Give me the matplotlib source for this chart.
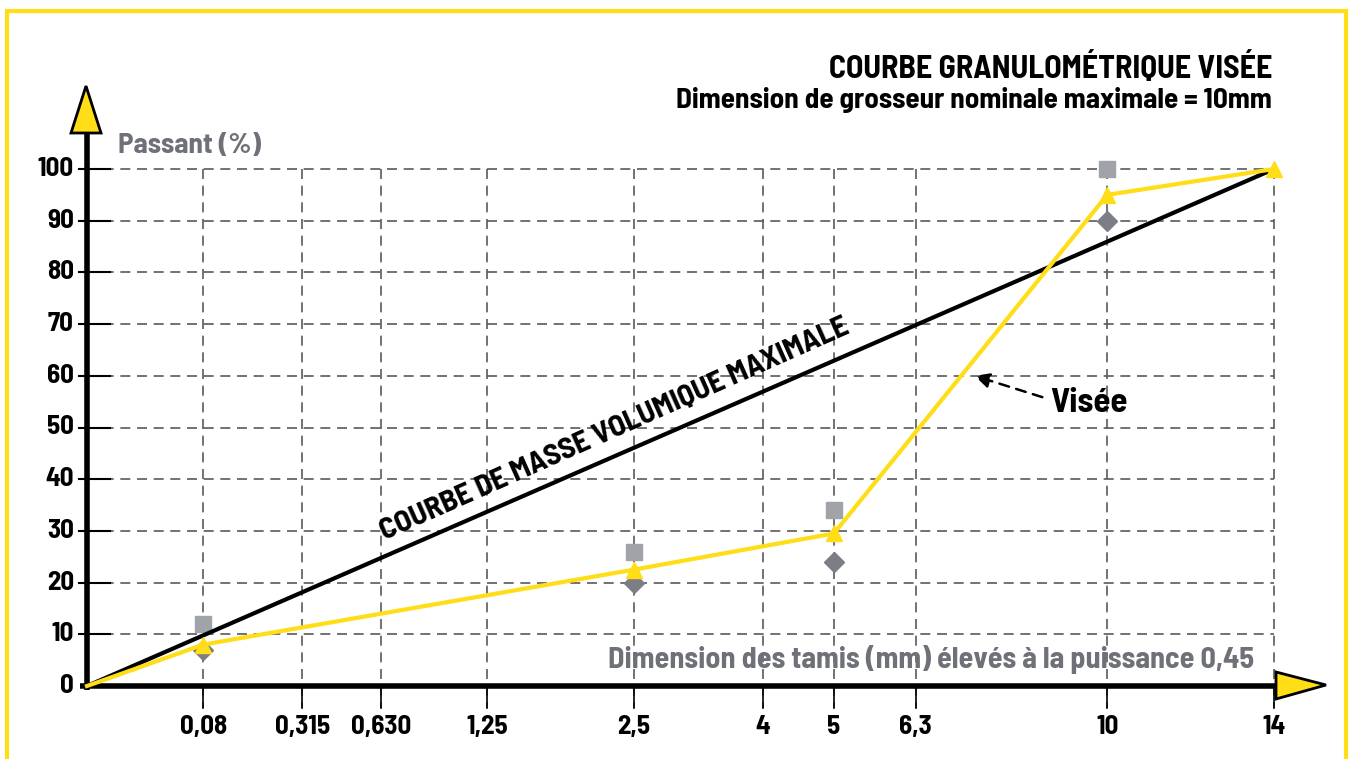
import matplotlib.pyplot as plt
from matplotlib.patches import Rectangle, Polygon
import numpy as np

# sieve sizes (mm) and tick labels
tamis = [0.08, 0.315, 0.630, 1.25, 2.5, 4, 5, 6.3, 10, 14]
tamis_labels = ['0,08', '0,315', '0,630', '1,25', '2,5', '4', '5', '6,3', '10', '14']
y_ticks = [0, 10, 20, 30, 40, 50, 60, 70, 80, 90, 100]

# target grading curve (Visée)
visee_x = [0, 0.08, 2.5, 5, 10, 14]
visee_y = [0, 8, 22.5, 29.5, 95, 100]

# measured points
carres_x = [0.08, 2.5, 5, 10]
carres_y = [12, 26, 34, 100]
losanges_x = [0.08, 2.5, 5, 10]
losanges_y = [7, 20, 24, 90]

# maximum density line
max_x = [0, 14]
max_y = [0, 100]

P = 0.45
def t(v):
    return np.asarray(v, dtype=float) ** P

FONT = ['Barlow Semi Condensed', 'DejaVu Sans']
JAUNE = '#FFDD17'
GRIS = '#6E7177'

fig = plt.figure(figsize=(13.5, 7.59), dpi=100)
ax = fig.add_axes([0, 0, 1, 1])
ax.set_axis_off()
sx = 362.0
sy = 5.17
ax.set_xlim(-87 / sx, (1350 - 87) / sx)
ax.set_ylim(-(759 - 686) / sy, 686 / sy)

def px(x, y):
    # pixel -> data helper for decoration placement
    return (x - 87) / sx, (686 - y) / sy

# yellow frame
x0, y0 = px(7, 11)
x1, y1 = px(1346, 770)
ax.add_patch(Rectangle((x0, y1), x1 - x0, y0 - y1, fill=False, ec=JAUNE, lw=3, zorder=0))

xmax = t(14)
grid_kw = dict(color='#5a5a5a', lw=1.2, ls=(0, (6, 4)), zorder=1)
for yv in y_ticks[1:]:
    ax.plot([0, xmax], [yv, yv], **grid_kw)
    ax.plot([px(79, 0)[0], px(110, 0)[0]], [yv, yv], color='black', lw=1.5, zorder=2)
for xv in tamis:
    ax.plot([t(xv), t(xv)], [100, px(0, 708)[1]], **grid_kw)
    ax.plot([t(xv), t(xv)], [0, px(0, 708)[1]], color='black', lw=1.2, zorder=2)

# axes
ax.plot([0, 0], [px(0, 690)[1], px(0, 133)[1]], color='black', lw=4, zorder=3, solid_capstyle='butt')
ax.plot([px(80, 0)[0], px(1276, 0)[0]], [0, 0], color='black', lw=4, zorder=3, solid_capstyle='butt')
ax.add_patch(Polygon([px(71, 133), px(101, 133), px(86, 86)], closed=True,
                     fc=JAUNE, ec='black', lw=2, zorder=4))
ax.add_patch(Polygon([px(1276, 672), px(1276, 699), px(1326, 685)], closed=True,
                     fc=JAUNE, ec='black', lw=2, zorder=4))

# tick labels
for yv in y_ticks:
    ax.text(px(74, 0)[0], yv, str(yv), ha='right', va='center', fontsize=19.5,
            fontweight='bold', family=FONT, zorder=5)
for xv, lab in zip(tamis, tamis_labels):
    ax.text(t(xv), px(0, 727)[1], lab, ha='center', va='center', fontsize=19.5,
            fontweight='bold', family=FONT)

# data
ax.plot(t(max_x), max_y, color='black', lw=3, zorder=6)
ax.plot(t(visee_x[1:]), visee_y[1:], ls='none', marker='^', ms=11, color=JAUNE, zorder=7)
ax.plot(t(visee_x), visee_y, color=JAUNE, lw=3, zorder=7)
ax.plot(t(carres_x), carres_y, ls='none', marker='s', ms=12, color='#A0A3A8', zorder=5)
ax.plot(t(losanges_x), losanges_y, ls='none', marker='D', ms=10, color='#7B7E84', zorder=5)

# labels
ax.text(*px(118, 146), 'Passant (%)', ha='left', va='center', fontsize=21,
        fontweight='bold', color=GRIS, family=FONT)
ax.text(*px(1254, 660), 'Dimension des tamis (mm) élevés à la puissance 0,45', ha='right',
        va='center', fontsize=21.7, fontweight='bold', color=GRIS, family=FONT)
ax.text(*px(1272, 68), 'COURBE GRANULOMÉTRIQUE VISÉE', ha='right', va='center',
        fontsize=23, fontweight='bold', family=FONT)
ax.text(*px(1272, 100), 'Dimension de grosseur nominale maximale = 10mm', ha='right',
        va='center', fontsize=21, fontweight='bold', family=FONT)
ax.text(*px(615, 430), 'COURBE DE MASSE VOLUMIQUE MAXIMALE', ha='center', va='center',
        fontsize=22, fontweight='bold', rotation=24, rotation_mode='anchor', family=FONT, zorder=8)
ax.text(*px(1050, 403), 'Visée', ha='left', va='center', fontsize=25,
        fontweight='bold', family=FONT)
ax.annotate('', xy=px(972, 375), xytext=px(1045, 398),
            arrowprops=dict(arrowstyle='-|>', color='black', lw=1.8, ls=(0, (4, 3)),
                            mutation_scale=22))

fig.savefig('out.png', dpi=100)
